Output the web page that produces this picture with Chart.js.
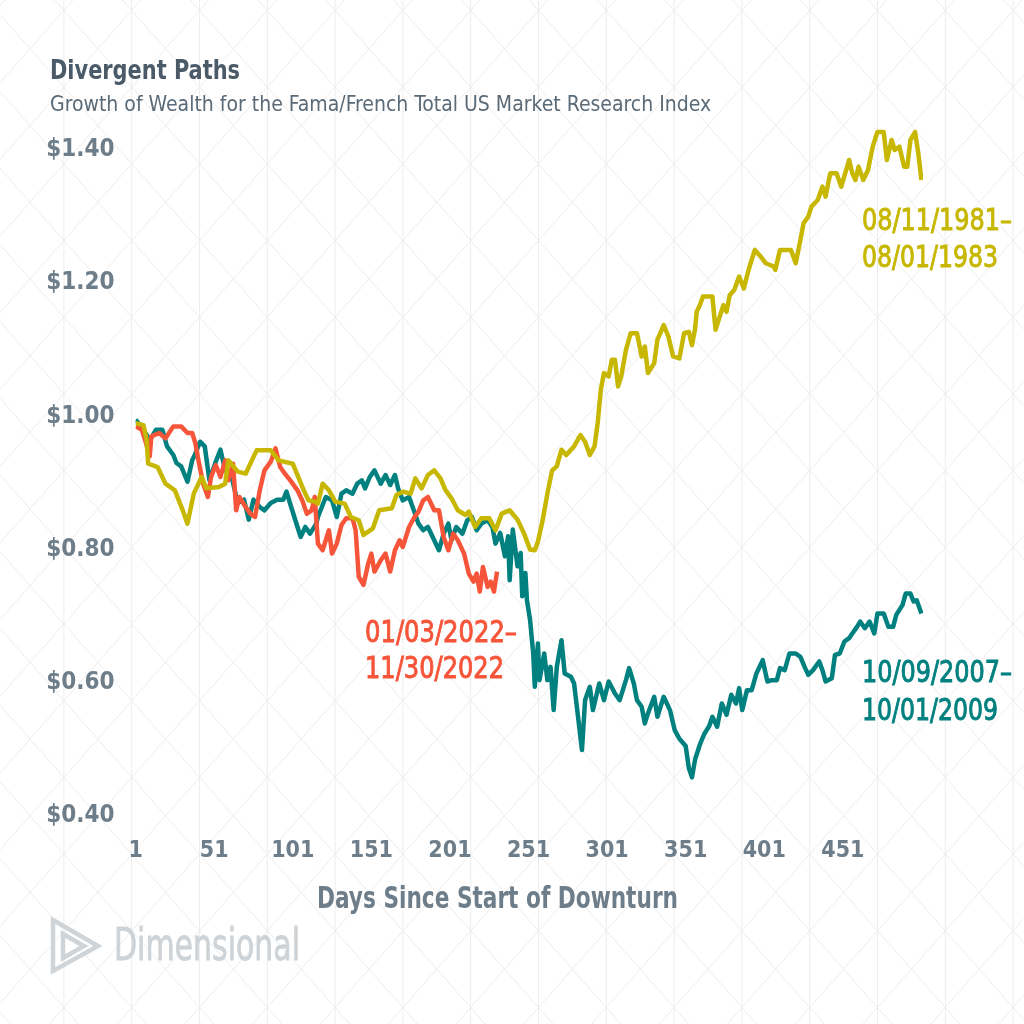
<!DOCTYPE html>
<html>
<head>
<meta charset="utf-8">
<script src="https://cdn.jsdelivr.net/npm/chart.js@4.4.1/dist/chart.umd.min.js"></script>
<style>
  html, body { margin: 0; padding: 0; background: #ffffff; }
  #contenedor { width: 1024px; height: 1024px; }
</style>
</head>
<body>
<div id="contenedor"><canvas id="grafica" width="1024" height="1024"></canvas></div>
<script>
// Datos (dia desde el inicio de la caida, valor de $1)
const dias1981 = [1,6,8,9,15,20,26,31,34,38,43,46,54,58,60,66,71,78,87,92,101,108,111,115,117,120,124,128,134,138,143,146,152,156,164,167,171,176,179,183,187,191,195,198,202,206,211,213,217,221,226,230,234,239,244,248,252,255,257,260,263,266,269,272,275,280,284,287,290,293,295,297,299,302,304,306,308,310,313,316,320,323,325,327,331,333,337,340,343,347,350,353,355,357,358,360,362,368,370,372,375,377,379,382,385,388,391,395,398,402,407,408,411,418,421,424,426,429,431,435,438,440,443,447,450,455,457,459,461,464,467,470,473,477,479,482,484,487,490,492,494,497,499,501];
const valores1981 = [0.99,0.987,0.965,0.929,0.924,0.899,0.889,0.859,0.839,0.884,0.909,0.892,0.894,0.899,0.934,0.917,0.914,0.949,0.949,0.934,0.929,0.889,0.874,0.872,0.869,0.899,0.889,0.872,0.869,0.849,0.844,0.822,0.832,0.859,0.862,0.882,0.887,0.884,0.907,0.892,0.912,0.919,0.907,0.89,0.877,0.859,0.852,0.857,0.834,0.847,0.847,0.829,0.854,0.859,0.845,0.825,0.8,0.799,0.812,0.844,0.884,0.919,0.925,0.95,0.942,0.955,0.972,0.962,0.942,0.955,0.99,1.04,1.065,1.06,1.085,1.085,1.045,1.06,1.1,1.125,1.125,1.09,1.105,1.065,1.08,1.115,1.137,1.12,1.09,1.087,1.125,1.127,1.107,1.132,1.157,1.167,1.18,1.18,1.13,1.145,1.167,1.157,1.182,1.19,1.21,1.192,1.22,1.25,1.242,1.23,1.225,1.22,1.25,1.25,1.23,1.265,1.29,1.3,1.315,1.325,1.345,1.33,1.365,1.365,1.345,1.385,1.365,1.355,1.375,1.355,1.37,1.405,1.427,1.427,1.385,1.415,1.4,1.405,1.375,1.375,1.415,1.427,1.395,1.355];

const dias2007 = [1,6,10,14,18,21,25,27,30,34,37,39,42,45,48,52,55,58,62,66,70,73,76,80,83,87,91,95,97,100,104,106,109,112,116,117,122,126,129,132,135,139,142,145,147,150,153,157,160,163,166,168,171,175,178,181,184,187,191,194,197,200,202,205,209,212,215,218,221,225,228,230,233,236,238,239,241,244,246,247,249,250,252,254,255,257,258,261,263,265,267,269,272,274,278,280,282,285,287,290,292,296,299,302,306,309,313,315,318,320,323,325,327,331,333,337,341,344,347,351,353,355,357,360,363,366,368,371,374,377,380,383,385,387,390,393,396,400,403,406,409,411,414,417,421,424,427,429,432,436,438,440,444,446,449,452,455,457,460,462,465,468,471,473,477,480,483,485,489,491,494,496,498,501];
const valores2007 = [0.995,0.98,0.964,0.98,0.98,0.955,0.942,0.93,0.925,0.902,0.934,0.944,0.962,0.955,0.904,0.932,0.95,0.919,0.91,0.87,0.875,0.845,0.875,0.864,0.859,0.87,0.875,0.875,0.887,0.864,0.834,0.819,0.834,0.824,0.839,0.849,0.879,0.874,0.849,0.884,0.889,0.884,0.899,0.904,0.892,0.909,0.919,0.899,0.912,0.897,0.912,0.892,0.874,0.879,0.859,0.839,0.829,0.834,0.814,0.799,0.824,0.839,0.814,0.834,0.824,0.844,0.849,0.829,0.839,0.844,0.834,0.809,0.825,0.79,0.82,0.754,0.83,0.775,0.795,0.73,0.765,0.724,0.694,0.644,0.594,0.659,0.604,0.644,0.604,0.624,0.559,0.624,0.664,0.614,0.609,0.599,0.559,0.499,0.574,0.594,0.559,0.599,0.574,0.602,0.584,0.574,0.604,0.622,0.599,0.574,0.564,0.539,0.554,0.579,0.549,0.579,0.559,0.529,0.516,0.505,0.472,0.458,0.485,0.507,0.524,0.535,0.549,0.534,0.569,0.552,0.582,0.569,0.592,0.559,0.589,0.589,0.614,0.634,0.602,0.604,0.604,0.622,0.619,0.644,0.644,0.639,0.622,0.612,0.619,0.632,0.619,0.602,0.607,0.642,0.644,0.662,0.667,0.674,0.684,0.692,0.682,0.692,0.674,0.704,0.704,0.684,0.684,0.702,0.717,0.734,0.734,0.722,0.724,0.704];

const dias2022 = [1,5,7,10,11,16,20,25,30,34,37,39,41,44,47,49,52,55,58,60,63,65,67,71,74,77,80,83,87,90,93,96,100,104,107,110,113,115,117,120,124,126,129,132,135,139,141,143,146,149,151,153,157,160,163,166,169,171,175,178,181,184,187,191,194,197,200,203,206,210,213,216,218,220,222,225,227,229,231];
const valores2022 = [0.985,0.98,0.965,0.94,0.97,0.975,0.967,0.985,0.985,0.975,0.975,0.96,0.934,0.899,0.879,0.909,0.927,0.909,0.934,0.904,0.929,0.859,0.879,0.864,0.854,0.849,0.889,0.919,0.932,0.952,0.924,0.914,0.902,0.889,0.874,0.854,0.859,0.879,0.809,0.799,0.829,0.794,0.809,0.837,0.847,0.847,0.829,0.759,0.747,0.779,0.794,0.767,0.784,0.794,0.767,0.799,0.814,0.804,0.834,0.847,0.857,0.874,0.879,0.859,0.859,0.819,0.799,0.824,0.814,0.794,0.764,0.752,0.764,0.737,0.774,0.744,0.752,0.737,0.767];

const ticksX = [1, 51, 101, 151, 201, 251, 301, 351, 401, 451];
const ticksY = [0.4, 0.6, 0.8, 1.0, 1.2, 1.4];

const FUENTE = "'DejaVu Sans Condensed', 'DejaVu Sans', sans-serif";
const AMARILLO = '#c7b700';
const ROJO = '#f6553a';
const VERDE = '#00807f';
const GRIS_TEXTO = '#6d7d89';

function puntos(dias, valores) {
    return dias.map((d, i) => ({ x: d, y: valores[i] }));
}

// texto un poco mas grueso (relleno + trazo fino del mismo color)
function textoMedio(ctx, texto, x, y, maxAncho) {
    ctx.fillText(texto, x, y, maxAncho);
    ctx.strokeText(texto, x, y, maxAncho);
}

// Fondo blanco con el patron de rombos
const fondoRombos = {
    id: 'fondoRombos',
    beforeDraw(chart) {
        const ctx = chart.ctx;
        const ancho = chart.width, alto = chart.height;
        ctx.save();
        ctx.fillStyle = '#ffffff';
        ctx.fillRect(0, 0, ancho, alto);
        ctx.strokeStyle = '#ededed';
        ctx.lineWidth = 1;
        const paso = 67.8, salto = 76.7, x0 = 131.7, y0 = 624;
        const m = salto / paso;
        ctx.beginPath();
        for (let x = x0 - paso * 2; x < ancho + 1; x += paso) {
            ctx.moveTo(x, 0);
            ctx.lineTo(x, alto);
        }
        for (let n = -40; n <= 40; n++) {
            const base = y0 - m * x0 + salto * n;
            ctx.moveTo(0, base);
            ctx.lineTo(ancho, base + m * ancho);
            const base2 = y0 + m * x0 + salto * n;
            ctx.moveTo(0, base2);
            ctx.lineTo(ancho, base2 - m * ancho);
        }
        ctx.stroke();
        ctx.restore();
    }
};

// Titulos, etiquetas de periodos y logo
const textosExtra = {
    id: 'textosExtra',
    afterDraw(chart) {
        const ctx = chart.ctx;
        ctx.save();
        ctx.textBaseline = 'alphabetic';
        ctx.textAlign = 'left';

        ctx.fillStyle = '#4b5a68';
        ctx.font = "bold 27px " + FUENTE;
        ctx.fillText('Divergent Paths', 50, 79, 190);
        ctx.fillStyle = '#5b6a77';
        ctx.font = "21px " + FUENTE;
        ctx.fillText('Growth of Wealth for the Fama/French Total US Market Research Index', 50, 111, 665);

        // titulo del eje X
        ctx.fillStyle = GRIS_TEXTO;
        ctx.font = "bold 30px " + FUENTE;
        ctx.fillText('Days Since Start of Downturn', 317, 908, 361);

        ctx.font = "30px " + FUENTE;
        ctx.lineWidth = 0.9;
        ctx.fillStyle = AMARILLO;
        ctx.strokeStyle = AMARILLO;
        textoMedio(ctx, '08/11/1981–', 862, 230, 150);
        textoMedio(ctx, '08/01/1983', 862, 267, 136);

        ctx.fillStyle = ROJO;
        ctx.strokeStyle = ROJO;
        textoMedio(ctx, '01/03/2022–', 365, 642, 152);
        textoMedio(ctx, '11/30/2022', 365, 678, 139);

        ctx.fillStyle = VERDE;
        ctx.strokeStyle = VERDE;
        textoMedio(ctx, '10/09/2007–', 862, 682, 150);
        textoMedio(ctx, '10/01/2009', 862, 720, 136);

        // logo Dimensional
        ctx.strokeStyle = '#cfd4d8';
        ctx.lineWidth = 4.5;
        ctx.lineJoin = 'miter';
        ctx.beginPath();
        ctx.moveTo(53, 920);
        ctx.lineTo(98, 946);
        ctx.lineTo(53, 971);
        ctx.closePath();
        ctx.stroke();
        ctx.beginPath();
        ctx.moveTo(63, 934);
        ctx.lineTo(84, 946);
        ctx.lineTo(63, 958);
        ctx.closePath();
        ctx.stroke();
        ctx.fillStyle = '#cdd3d7';
        ctx.strokeStyle = '#cdd3d7';
        ctx.lineWidth = 0.8;
        ctx.font = "44px " + FUENTE;
        textoMedio(ctx, 'Dimensional', 114, 960, 186);
        ctx.restore();
    }
};

Chart.defaults.font.family = FUENTE;

const ctx = document.getElementById('grafica').getContext('2d');
new Chart(ctx, {
    type: 'line',
    data: {
        datasets: [
            { label: '08/11/1981–08/01/1983', data: puntos(dias1981, valores1981), borderColor: AMARILLO },
            { label: '01/03/2022–11/30/2022', data: puntos(dias2022, valores2022), borderColor: ROJO },
            { label: '10/09/2007–10/01/2009', data: puntos(dias2007, valores2007), borderColor: VERDE }
        ]
    },
    options: {
        responsive: false,
        animation: false,
        devicePixelRatio: 1,
        datasets: {
            line: { borderWidth: 4.5, pointRadius: 0, tension: 0, borderJoinStyle: 'round', fill: false }
        },
        layout: { padding: { left: 0, right: 101, top: 116.7, bottom: 88 } },
        scales: {
            x: {
                type: 'linear',
                min: 1,
                max: 502,
                grid: { display: false, drawTicks: false },
                border: { display: false },
                afterBuildTicks: (escala) => { escala.ticks = ticksX.map(v => ({ value: v })); },
                afterFit: (escala) => { escala.height = 120; },
                ticks: { color: GRIS_TEXTO, padding: 21, font: { size: 23, weight: 'bold' }, maxRotation: 0, autoSkip: false },
                title: { display: false }
            },
            y: {
                min: 0.4,
                max: 1.45,
                grid: { display: false, drawTicks: false },
                border: { display: false },
                afterBuildTicks: (escala) => { escala.ticks = ticksY.map(v => ({ value: v })); },
                afterFit: (escala) => { escala.width = 135.6; },
                ticks: {
                    color: GRIS_TEXTO,
                    padding: 21,
                    font: { size: 24, weight: 'bold' },
                    callback: (v) => '$' + Number(v).toFixed(2)
                }
            }
        },
        plugins: {
            legend: { display: false },
            tooltip: { enabled: false },
            title: { display: false }
        }
    },
    plugins: [fondoRombos, textosExtra]
});
</script>
</body>
</html>
